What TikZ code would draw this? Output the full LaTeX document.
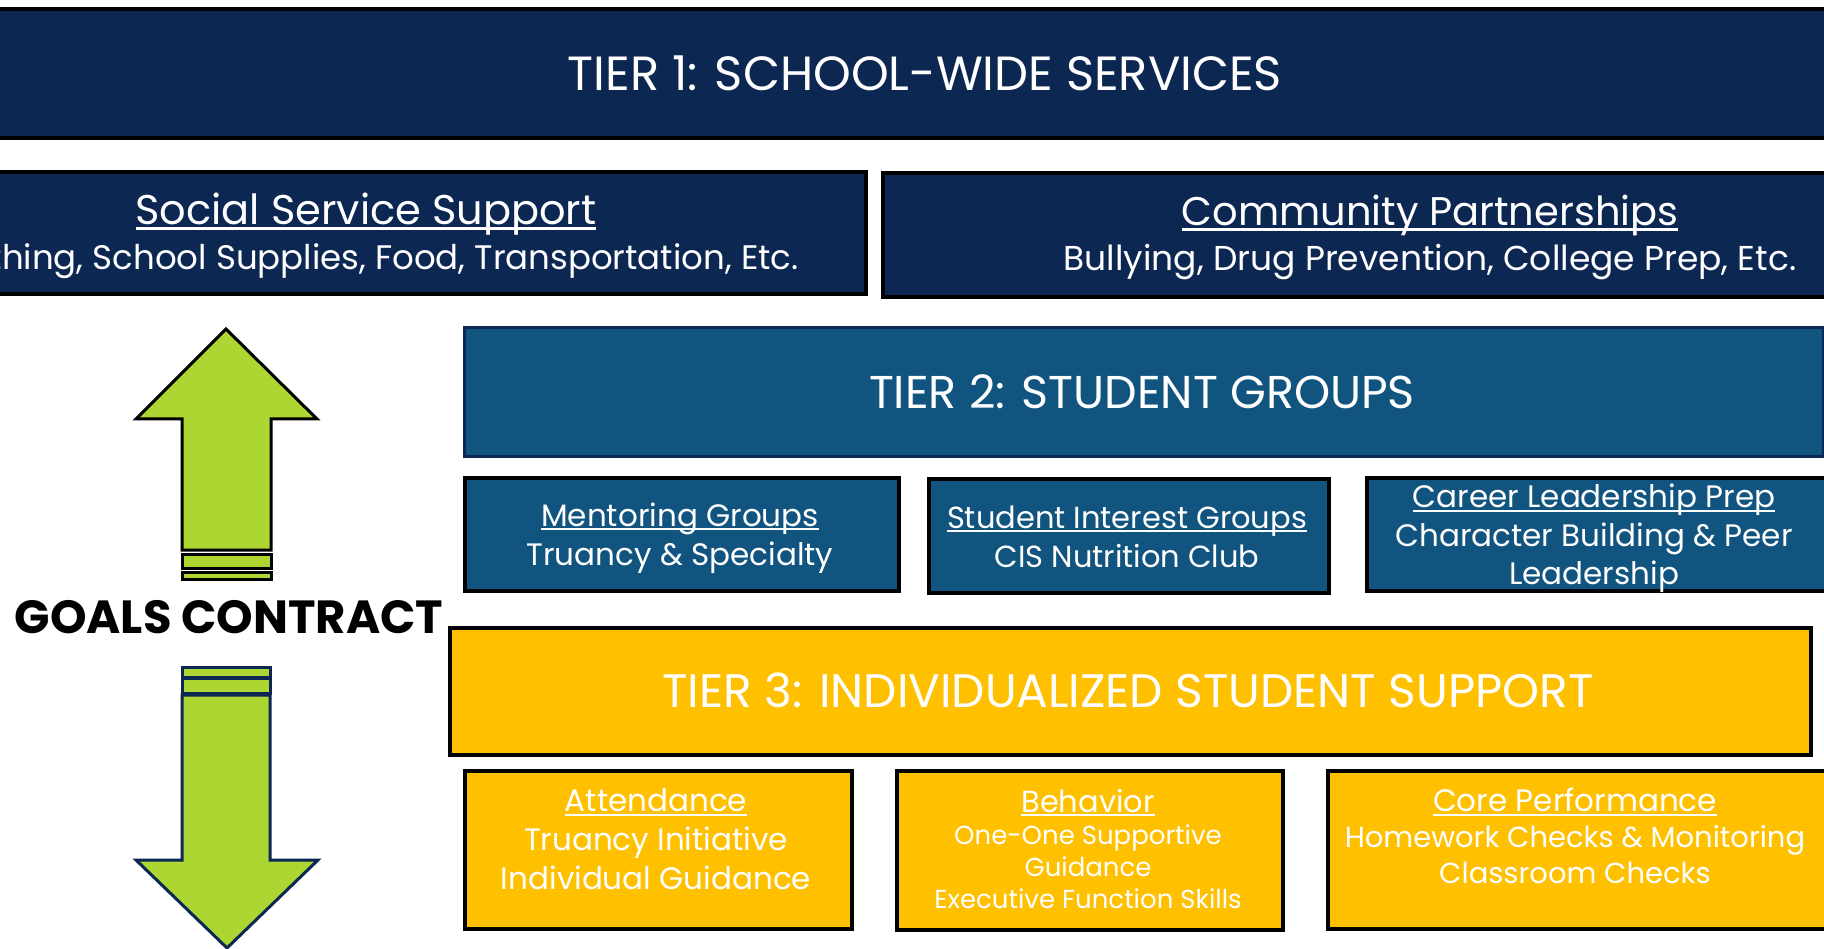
\documentclass[tikz,border=0pt]{standalone}
\usepackage{fontspec}
\setmainfont{Poppins}
\newfontfamily\goalsfont{Poppins}
\definecolor{navy}{RGB}{12,39,82}
\definecolor{tiertwo}{RGB}{16,84,127}
\definecolor{gold}{RGB}{255,192,0}
\definecolor{lime}{RGB}{173,214,51}
% underlined heading with a rule that scales with the font
\newcommand\ttl[1]{\begingroup\setbox0\hbox{#1}\leavevmode\rlap{\raisebox{-0.13em}{\rule{\wd0}{0.065em}}}\box0\endgroup}
\newcommand\fs[2]{\fontsize{#1}{#2}\selectfont}
\begin{document}
\begin{tikzpicture}[x=1pt,y=-1pt,
  box/.style={draw=black,line width=4pt,inner sep=0pt,anchor=north west},
  boxtext/.style={text=white,align=center,inner sep=0pt},
  tiertitle/.style={boxtext,font=\fs{46}{55}},
  arrowline/.style={line width=3pt,fill=lime,line join=miter}]
\useasboundingbox (0,0) rectangle (1824,949);
\clip (0,0) rectangle (1824,949);

% Tier 1
\node[box,fill=navy,minimum width=2200pt,minimum height=129pt] (tierone) at (-175,7) {};
\node[tiertitle,font=\fs{48}{55}] (tieronetext) at (925,73) {TIER 1: SCHOOL-WIDE SERVICES};

\node[box,fill=navy,minimum width=996pt,minimum height=122pt] (social) at (-132,170) {};
\node[boxtext,font=\fs{34}{45}] (socialtext) at (366,235.5)
  {{\fs{41.5}{45}\ttl{Social Service Support}}\\Clothing, School Supplies, Food, Transportation, Etc.};

\node[box,fill=navy,minimum width=1098pt,minimum height=124pt] (community) at (881,171) {};
\node[boxtext,font=\fs{34.5}{45}] (communitytext) at (1430,237.5)
  {{\fs{40}{45}\ttl{Community Partnerships}}\\Bullying, Drug Prevention, College Prep, Etc.};

% Tier 2
\node[box,draw=navy,line width=3pt,fill=tiertwo,minimum width=1359pt,minimum height=129pt] (tiertwo) at (463,326) {};
\node[tiertitle] (tiertwotext) at (1142,392) {TIER 2: STUDENT GROUPS};

\node[box,fill=tiertwo,minimum width=434pt,minimum height=113pt] (mentoring) at (463,476) {};
\node[boxtext,font=\fs{31}{39}] (mentoringtext) at (680,538)
  {\ttl{Mentoring Groups}\\Truancy \& Specialty};

\node[box,fill=tiertwo,minimum width=400pt,minimum height=114pt] (interest) at (927,477) {};
\node[boxtext,font=\fs{30.5}{39}] (interesttext) at (1127,536.5)
  {\ttl{Student Interest Groups}\\CIS Nutrition Club};

\node[box,fill=tiertwo,minimum width=460pt,minimum height=113pt] (career) at (1365,476) {};
\node[boxtext,font=\fs{31}{38.5}] (careertext) at (1594,538.5)
  {\ttl{Career Leadership Prep}\\Character Building \& Peer\\Leadership};

% Tier 3
\node[box,fill=gold,minimum width=1361pt,minimum height=127pt] (tierthree) at (448,626) {};
\node[tiertitle,font=\fs{47}{55}] (tierthreetext) at (1128,690) {TIER 3: INDIVIDUALIZED STUDENT SUPPORT};

\node[box,fill=gold,minimum width=387pt,minimum height=158pt] (attendance) at (463,769) {};
\node[boxtext,font=\fs{31}{39}] (attendancetext) at (656,839.5)
  {\ttl{Attendance}\\Truancy Initiative\\Individual Guidance};

\node[box,fill=gold,minimum width=386pt,minimum height=159pt] (behavior) at (895,769) {};
\node[boxtext,font=\fs{26}{32}] (behaviortext) at (1088,849)
  {{\fs{30.5}{32}\ttl{Behavior}}\\One-One Supportive\\Guidance\\Executive Function Skills};

\node[box,fill=gold,minimum width=500pt,minimum height=158pt] (core) at (1326,769) {};
\node[boxtext,font=\fs{29}{36}] (coretext) at (1575,836)
  {{\fs{31}{36}\ttl{Core Performance}}\\Homework Checks \& Monitoring\\Classroom Checks};

% Goals contract arrows
\draw[arrowline,draw=black] (226,329) -- (317,419) -- (271,419) -- (271,550)
  -- (182,550) -- (182,419) -- (136,419) -- cycle;
\draw[arrowline,draw=black] (182,554) rectangle (271,568);
\draw[arrowline,draw=black] (182,572) rectangle (271,579);

\draw[arrowline,draw=navy] (182,695) -- (270,695) -- (270,860) -- (318,860)
  -- (227,948) -- (136,860) -- (182,860) -- cycle;
\draw[arrowline,draw=navy] (182,678) rectangle (270,693);
\draw[arrowline,draw=navy] (182,667) rectangle (270,677);

\node[inner sep=0pt,font=\goalsfont\bfseries\fs{46.5}{55}] (goals) at (229,617) {GOALS CONTRACT};
\end{tikzpicture}
\end{document}
